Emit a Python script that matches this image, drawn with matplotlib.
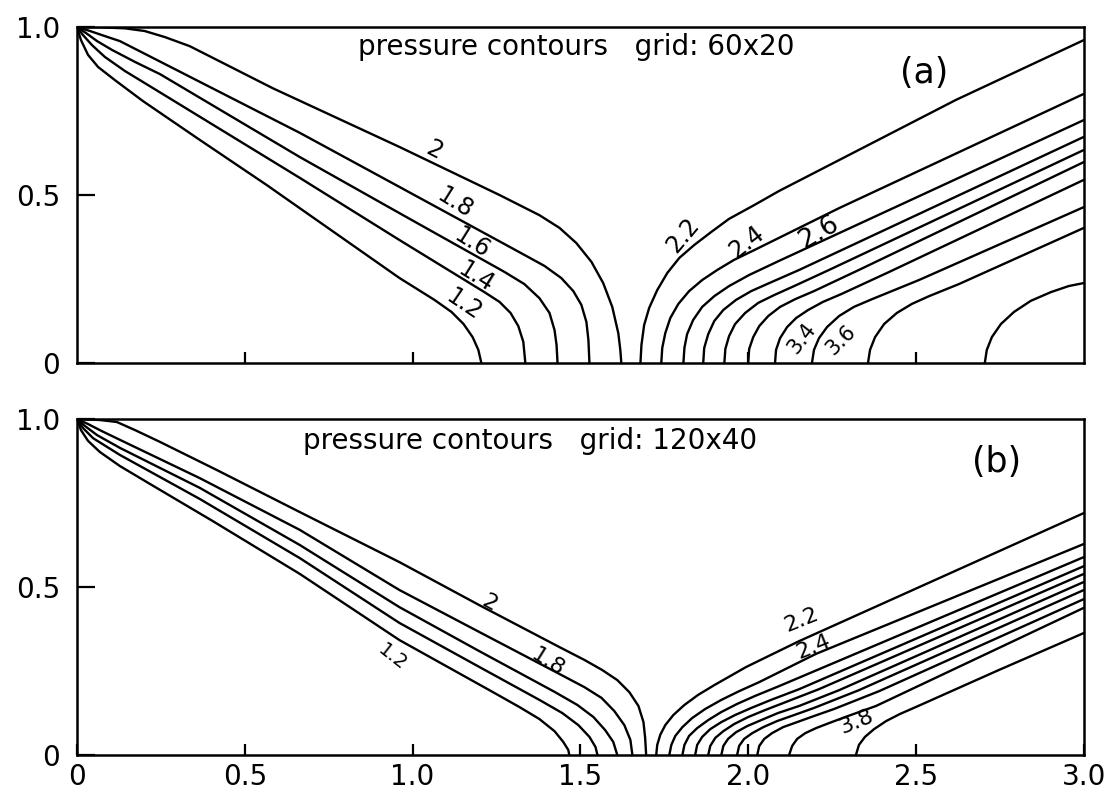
import matplotlib
matplotlib.use("Agg")
import matplotlib.pyplot as plt

# pressure contour lines, one (x, y) pair of lists per level
# panel (a), grid 60x20 -- left family
a_12 = [[0, .012, .033, .063, .113, .196, .366, .565, .961, 1.065, 1.116, 1.152, 1.179, 1.196, 1.205],
        [1, .961, .917, .881, .842, .780, .664, .530, .253, .188, .152, .116, .077, .039, 0]]
a_14 = [[0, .018, .045, .083, .143, .217, .664, .961, 1.214, 1.259, 1.292, 1.315, 1.330, 1.336],
        [1, .976, .946, .911, .869, .824, .551, .366, .211, .182, .149, .110, .063, 0]]
a_16 = [[0, .027, .060, .104, .173, .247, .664, .961, 1.274, 1.333, 1.378, 1.408, 1.423, 1.429, 1.432],
        [1, .982, .958, .932, .896, .860, .613, .446, .271, .235, .193, .149, .098, .054, 0]]
a_18 = [[0, .039, .083, .128, .664, .961, 1.318, 1.393, 1.443, 1.479, 1.503, 1.518, 1.524, 1.527],
        [1, .988, .973, .958, .685, .524, .330, .289, .253, .214, .173, .122, .068, 0]]
a_20 = [[0, .068, .143, .202, .262, .336, .583, .961, 1.259, 1.378, 1.438, 1.488, 1.533, 1.568, 1.595, 1.613, 1.619, 1.622],
        [1, .999, .996, .988, .970, .943, .818, .643, .500, .440, .402, .357, .301, .238, .167, .089, .039, 0]]
# panel (a) -- right family
a_22 = [[1.679, 1.682, 1.690, 1.705, 1.729, 1.759, 1.795, 1.839, 1.890, 1.943, 2.018, 2.092, 2.271, 2.619, 3.0],
        [0, .054, .113, .164, .217, .268, .313, .351, .390, .429, .470, .512, .604, .783, .961]]
a_24 = [[1.741, 1.744, 1.753, 1.768, 1.792, 1.824, 1.863, 1.908, 1.958, 2.018, 2.271, 3.0],
        [0, .045, .089, .134, .176, .214, .247, .277, .307, .336, .461, .801]]
a_26 = [[1.807, 1.810, 1.818, 1.836, 1.863, 1.899, 1.943, 2.003, 2.092, 3.0],
        [0, .045, .086, .128, .167, .199, .229, .262, .304, .723]]
a_28 = [[1.866, 1.869, 1.881, 1.899, 1.926, 1.964, 2.009, 2.063, 2.152, 3.0],
        [0, .045, .086, .125, .158, .188, .214, .238, .277, .673]]
a_30 = [[1.929, 1.932, 1.943, 1.961, 1.991, 2.030, 2.077, 2.137, 2.241, 3.0],
        [0, .042, .080, .116, .149, .179, .202, .229, .277, .634]]
a_32 = [[2.0, 2.003, 2.015, 2.033, 2.060, 2.095, 2.140, 2.196, 2.330, 3.0],
        [0, .042, .077, .110, .140, .167, .190, .214, .277, .598]]
a_34 = [[2.080, 2.083, 2.095, 2.116, 2.143, 2.179, 2.223, 2.277, 2.420, 3.0],
        [0, .039, .074, .107, .134, .158, .182, .205, .271, .545]]
a_36 = [[2.190, 2.196, 2.211, 2.235, 2.271, 2.315, 2.369, 2.509, 3.0],
        [0, .039, .074, .107, .140, .167, .190, .247, .464]]
a_38 = [[2.357, 2.363, 2.378, 2.405, 2.443, 2.488, 2.539, 2.628, 3.0],
        [0, .039, .077, .116, .149, .176, .199, .235, .402]]
a_40 = [[2.705, 2.711, 2.726, 2.753, 2.792, 2.842, 2.902, 2.955, 3.0],
        [0, .039, .077, .116, .152, .185, .211, .229, .238]]

# panel (b), grid 120x40 -- left family
b_12 = [[0, .012, .033, .068, .128, .217, .405, .664, .961, 1.229, 1.318, 1.378, 1.423, 1.449, 1.464, 1.467],
        [1, .967, .935, .902, .860, .807, .696, .539, .342, .193, .143, .107, .071, .039, .015, 0]]
b_14 = [[0, .018, .048, .128, .366, .664, .961, 1.199, 1.378, 1.446, 1.494, 1.527, 1.545, 1.551],
        [1, .973, .943, .893, .762, .586, .393, .262, .164, .125, .089, .054, .024, 0]]
b_16 = [[0, .024, .060, .128, .366, .664, .961, 1.199, 1.423, 1.491, 1.539, 1.574, 1.598, 1.610],
        [1, .979, .952, .914, .795, .625, .440, .309, .188, .149, .113, .074, .039, 0]]
b_18 = [[0, .033, .074, .128, .366, .664, .961, 1.199, 1.438, 1.512, 1.563, 1.601, 1.631, 1.649, 1.655],
        [1, .985, .964, .938, .824, .670, .491, .366, .241, .202, .170, .131, .089, .045, 0]]
b_20 = [[0, .068, .119, .173, .247, .417, .664, .961, 1.199, 1.438, 1.512, 1.565, 1.610, 1.646, 1.673, 1.688, 1.693, 1.696],
        [1, .997, .991, .967, .932, .848, .723, .574, .446, .321, .283, .253, .223, .187, .146, .098, .051, 0]]
# panel (b) -- right family
b_22 = [[1.726, 1.729, 1.738, 1.753, 1.777, 1.810, 1.851, 1.899, 1.994, 2.152, 3.0],
        [0, .030, .060, .089, .119, .149, .179, .208, .262, .339, .720]]
b_24 = [[1.765, 1.771, 1.783, 1.804, 1.833, 1.872, 1.920, 1.973, 2.033, 2.202, 3.0],
        [0, .030, .057, .083, .110, .137, .164, .190, .217, .301, .628]]
b_26 = [[1.804, 1.810, 1.824, 1.848, 1.881, 1.920, 1.967, 2.021, 2.092, 3.0],
        [0, .030, .057, .080, .104, .128, .152, .176, .205, .589]]
b_28 = [[1.842, 1.848, 1.863, 1.887, 1.920, 1.961, 2.009, 2.068, 2.152, 3.0],
        [0, .030, .054, .077, .098, .119, .140, .164, .196, .562]]
b_30 = [[1.881, 1.887, 1.902, 1.926, 1.958, 2.000, 2.051, 2.113, 2.211, 3.0],
        [0, .027, .051, .071, .092, .113, .134, .158, .196, .539]]
b_32 = [[1.920, 1.926, 1.940, 1.964, 1.997, 2.039, 2.089, 2.152, 2.271, 3.0],
        [0, .027, .048, .068, .086, .104, .125, .146, .193, .515]]
b_34 = [[1.967, 1.973, 1.988, 2.012, 2.045, 2.086, 2.137, 2.196, 2.330, 3.0],
        [0, .027, .048, .065, .083, .101, .119, .140, .193, .491]]
b_36 = [[2.027, 2.033, 2.048, 2.071, 2.104, 2.146, 2.196, 2.256, 2.390, 3.0],
        [0, .027, .048, .065, .083, .098, .116, .137, .190, .464]]
b_38 = [[2.122, 2.131, 2.146, 2.170, 2.202, 2.241, 2.289, 2.381, 3.0],
        [0, .027, .048, .065, .080, .095, .113, .146, .438]]
b_40 = [[2.321, 2.330, 2.348, 2.375, 2.411, 2.452, 2.500, 2.747, 3.0],
        [0, .030, .054, .077, .101, .122, .143, .253, .363]]

a_curves = [a_12, a_14, a_16, a_18, a_20, a_22, a_24, a_26, a_28, a_30, a_32, a_34, a_36, a_38, a_40]
b_curves = [b_12, b_14, b_16, b_18, b_20, b_22, b_24, b_26, b_28, b_30, b_32, b_34, b_36, b_38, b_40]

# inline contour labels: text, x, y, rotation, size
a_labels = [("2", 1.065, .634, -27, 17), ("1.8", 1.125, .476, -32, 17), ("1.6", 1.176, .357, -32, 17),
            ("1.4", 1.188, .256, -32, 17), ("1.2", 1.152, .173, -34, 17),
            ("2.2", 1.804, .381, 50, 17), ("2.4", 1.994, .360, 38, 17), ("2.6", 2.211, .390, 30, 19),
            ("3.4", 2.161, .074, 52, 15), ("3.6", 2.277, .068, 45, 15)]
b_labels = [("2", 1.229, .452, -28, 16), ("1.8", 1.402, .277, -32, 16), ("1.2", .940, .292, -38, 14),
            ("2.2", 2.158, .402, 22, 16), ("2.4", 2.196, .321, 22, 16), ("3.8", 2.321, .098, 22, 16)]

x_ticks = [0, 0.5, 1.0, 1.5, 2.0, 2.5, 3.0]
x_ticklabels = ["0", "0.5", "1.0", "1.5", "2.0", "2.5", "3.0"]
y_ticks = [0, 0.5, 1.0]
y_ticklabels = ["0", "0.5", "1.0"]

fig = plt.figure(figsize=(11.04, 7.94), dpi=100)
ax_a = fig.add_axes([0.0697, 0.5428, 0.912, 0.4232])
ax_b = fig.add_axes([0.0697, 0.0491, 0.912, 0.4232])

def draw(ax, curves, labels, title, tag, title_xy, tag_xy, xlab):
    for xs, ys in curves:
        ax.plot(xs, ys, color="black", lw=1.7, solid_capstyle="round", solid_joinstyle="round")
    for txt, x, y, r, fs in labels:
        ax.text(x, y, txt, rotation=r, ha="center", va="center", fontsize=fs,
                rotation_mode="anchor")
    ax.text(title_xy[0], title_xy[1], title, ha="center", va="center", fontsize=20)
    ax.text(tag_xy[0], tag_xy[1], tag, ha="center", va="center", fontsize=25)
    ax.set_xlim(0, 3.0)
    ax.set_ylim(0, 1.0)
    for s in ax.spines.values():
        s.set_linewidth(1.8)
    ax.set_yticks(y_ticks)
    ax.set_yticklabels(y_ticklabels, fontsize=20)
    ax.tick_params(axis="y", direction="in", length=13, width=1.6, pad=12)
    ax.tick_params(axis="x", direction="in", length=8, width=1.6, pad=6)
    if xlab:
        ax.set_xticks(x_ticks)
        ax.set_xticklabels(x_ticklabels, fontsize=20)
    else:
        ax.set_xticks([0.5, 1.0, 2.0, 2.5])
        ax.set_xticklabels([])

draw(ax_a, a_curves, a_labels, "pressure contours   grid: 60x20", "(a)", (1.488, .940), (2.524, .863), False)
draw(ax_b, b_curves, b_labels, "pressure contours   grid: 120x40", "(b)", (1.351, .935), (2.741, .872), True)

fig.savefig("out.png", dpi=100)
